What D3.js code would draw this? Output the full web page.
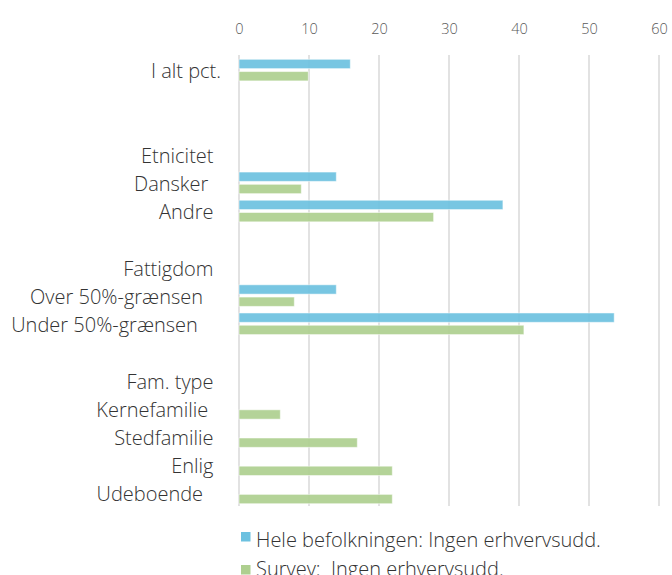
<!DOCTYPE html>
<html><head><meta charset="utf-8">
<script src="https://cdn.jsdelivr.net/npm/d3@7"></script>
<style>
html,body{margin:0;padding:0;background:#fff;}
svg text{font-family:"Open Sans",Roboto,sans-serif;font-weight:300;}
</style></head>
<body><svg id="chart" width="672" height="575"></svg>
<script>
const categories = ["I alt pct.", "blank1", "blank2", "Etnicitet", "Dansker ", "Andre", "blank3",
  "Fattigdom", "Over 50%-grænsen  ", "Under 50%-grænsen   ", "blank4", "Fam. type",
  "Kernefamilie ", "Stedfamilie", "Enlig", "Udeboende  "];
const seriesNames = ["Hele befolkningen: Ingen erhvervsudd.", "Survey:  Ingen erhvervsudd."];
const seriesColors = ["#6cc1e0", "#aecf8f"];
const heleValues = [15.9, null, null, null, 13.9, 37.7, null, null, 13.9, 53.6, null, null, null, null, null, null];
const surveyValues = [9.9, null, null, null, 8.9, 27.8, null, null, 7.9, 40.7, null, null, 5.9, 16.9, 21.9, 21.9];
const tickValues = [0, 10, 20, 30, 40, 50, 60];

const svg = d3.select("#chart");
const x = d3.scaleLinear().domain([0, 60]).range([239, 659]);
const y = d3.scaleBand().domain(categories).range([56, 507]).paddingInner(0).paddingOuter(0);
const sub = d3.scaleBand().domain([0, 1]).range([3.3, y.bandwidth() - 3.3]).paddingInner(0.24);

// gridlines
svg.append("g").selectAll("line").data(tickValues).join("line")
  .attr("x1", d => x(d)).attr("x2", d => x(d))
  .attr("y1", 55).attr("y2", 506)
  .attr("stroke", "#d9d9d9").attr("stroke-width", 1.5);

// top axis labels
const axis = d3.axisTop(x).tickValues(tickValues).tickSize(0).tickPadding(0);
const ag = svg.append("g").attr("transform", "translate(0,34)").call(axis);
ag.select(".domain").remove();
ag.selectAll("text").attr("fill", "#595959").style("font-size", "14.5px")
  .style("font-family", "'Open Sans', sans-serif").style("font-weight", "300");

// bars
const series = [heleValues, surveyValues];
series.forEach((vals, si) => {
  svg.append("g").selectAll("rect")
    .data(categories.map((c, i) => ({c, v: vals[i]})).filter(d => d.v != null))
    .join("rect")
    .attr("x", x(0))
    .attr("y", d => y(d.c) + sub(si))
    .attr("width", d => x(d.v) - x(0))
    .attr("height", sub.bandwidth())
    .attr("fill", seriesColors[si])
    .attr("fill-opacity", 0.92)
    .attr("stroke", "#ffffff").attr("stroke-opacity", 0.5).attr("stroke-width", 1);
});

// category labels
svg.append("g").selectAll("text")
  .data(categories.filter(c => !c.startsWith("blank")))
  .join("text")
  .attr("x", (d, i) => i === 0 ? 221 : 213.5)
  .attr("y", d => y(d) + y.bandwidth() / 2 + 3)
  .attr("text-anchor", "end")
  .attr("dominant-baseline", "middle")
  .attr("xml:space", "preserve")
  .style("white-space", "pre")
  .attr("fill", "#333333")
  .style("font-size", "20px")
  .text(d => d);

// legend
const lg = svg.append("g");
seriesNames.forEach((n, i) => {
  lg.append("rect").attr("x", 241).attr("y", 532 + i * 33).attr("width", 9.5).attr("height", 9.5)
    .attr("fill", seriesColors[i]);
  lg.append("text").attr("x", 256).attr("y", 547 + i * 29)
    .attr("fill", "#333333").style("font-size", "20px")
    .attr("xml:space", "preserve").style("white-space", "pre")
    .text(n);
});
</script></body></html>
